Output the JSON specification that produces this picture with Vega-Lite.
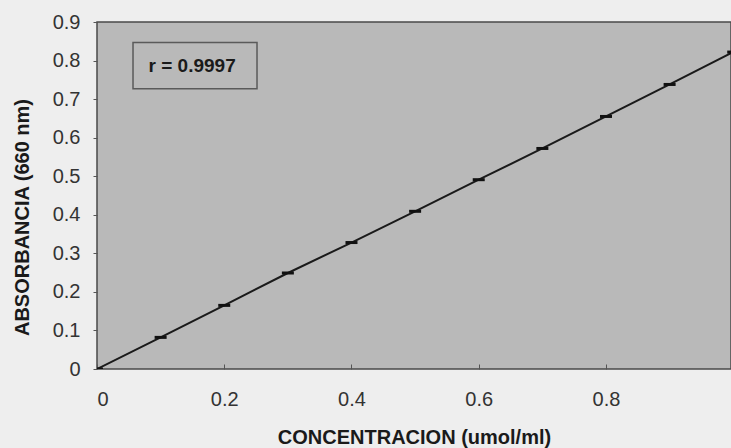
{
  "$schema": "https://vega.github.io/schema/vega-lite/v6.json",
  "autosize": "none",
  "width": 634,
  "height": 347,
  "padding": {"left": 97, "top": 22, "right": 0, "bottom": 79},
  "background": "#eeeeee",
  "config": {
    "view": {"fill": "#b9b9b9", "stroke": "#4a4a4a", "strokeWidth": 1.5},
    "font": "Liberation Sans",
    "axis": {
      "grid": false,
      "domain": false,
      "labelFont": "Liberation Sans",
      "labelFontSize": 20,
      "labelColor": "#333333",
      "tickColor": "#555555",
      "titleFont": "Liberation Sans",
      "titleFontSize": 19,
      "titleFontWeight": "bold",
      "titleColor": "#1a1a1a"
    }
  },
  "data": {
    "values": [
      {"conc": 0.0, "abs": 0.0},
      {"conc": 0.1, "abs": 0.082},
      {"conc": 0.2, "abs": 0.165},
      {"conc": 0.3, "abs": 0.249},
      {"conc": 0.4, "abs": 0.328},
      {"conc": 0.5, "abs": 0.409},
      {"conc": 0.6, "abs": 0.491},
      {"conc": 0.7, "abs": 0.572},
      {"conc": 0.8, "abs": 0.655},
      {"conc": 0.9, "abs": 0.738},
      {"conc": 1.0, "abs": 0.822}
    ]
  },
  "encoding": {
    "x": {
      "field": "conc",
      "type": "quantitative",
      "scale": {"domain": [0, 0.9965], "nice": false, "zero": true},
      "axis": {
        "title": "CONCENTRACION (umol/ml)",
        "values": [0, 0.2, 0.4, 0.6, 0.8],
        "labelExpr": "datum.value == 0 ? '0' : format(datum.value, '.1f')",
        "tickSize": -5,
        "labelPadding": 25,
        "titlePadding": 18,
        "titleFontSize": 20
      }
    },
    "y": {
      "field": "abs",
      "type": "quantitative",
      "scale": {"domain": [0, 0.9], "nice": false},
      "axis": {
        "title": "ABSORBANCIA (660 nm)",
        "values": [0, 0.1, 0.2, 0.3, 0.4, 0.5, 0.6, 0.7, 0.8, 0.9],
        "labelExpr": "datum.value == 0 ? '0' : format(datum.value, '.1f')",
        "tickSize": 4,
        "labelPadding": 13,
        "titlePadding": 20,
        "titleFontSize": 20,
        "titleLetterSpacing": 1.5,
        "titleY": 195
      }
    }
  },
  "layer": [
    {
      "mark": {"type": "line", "color": "#1a1a1a", "strokeWidth": 2, "clip": true}
    },
    {
      "mark": {
        "type": "point",
        "shape": "M-1,-0.25L1,-0.25L1,0.25L-1,0.25Z",
        "filled": true,
        "color": "#111111",
        "opacity": 1,
        "size": 144,
        "clip": true
      }
    },
    {
      "data": {"values": [{"x1": 0.0566, "x2": 0.2515, "y1": 0.727, "y2": 0.847, "label": "r = 0.9997", "xc": 0.1495, "yc": 0.787}]},
      "layer": [
        {
          "mark": {"type": "rect", "fill": "#b9b9b9", "stroke": "#5a5a5a", "strokeWidth": 1.5},
          "encoding": {
            "x": {"field": "x1", "type": "quantitative"},
            "x2": {"field": "x2"},
            "y": {"field": "y1", "type": "quantitative"},
            "y2": {"field": "y2"}
          }
        },
        {
          "mark": {"type": "text", "font": "Liberation Sans", "fontSize": 19, "fontWeight": "bold", "color": "#1a1a1a", "align": "center", "baseline": "middle"},
          "encoding": {
            "x": {"field": "xc", "type": "quantitative"},
            "y": {"field": "yc", "type": "quantitative"},
            "text": {"field": "label"}
          }
        }
      ]
    }
  ]
}
